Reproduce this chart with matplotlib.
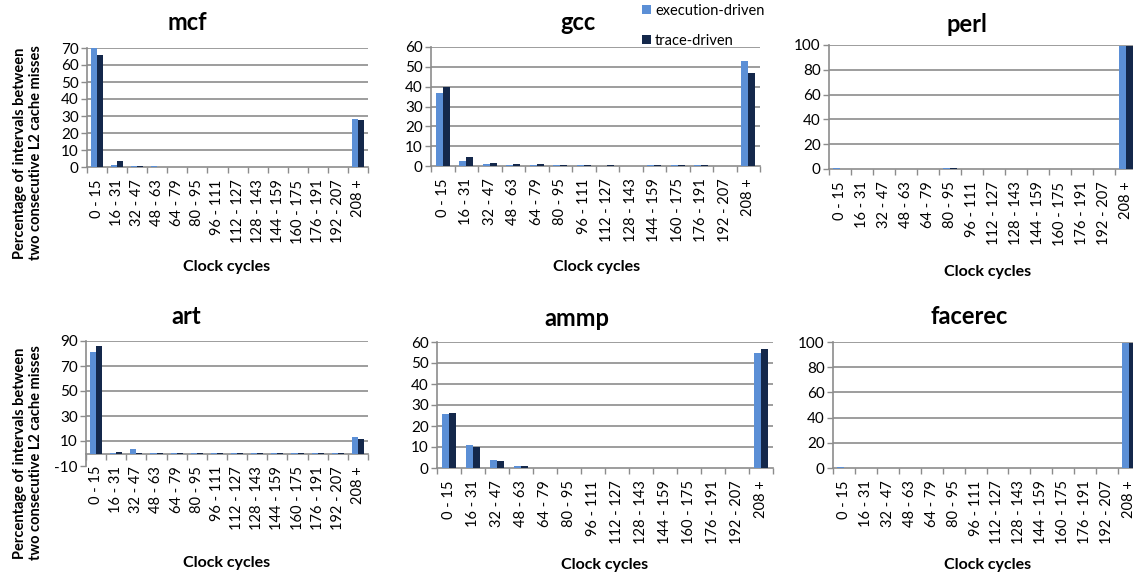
import numpy as np
import matplotlib
matplotlib.use("Agg")
import matplotlib.pyplot as plt

plt.rcParams['font.family'] = ['Lato', 'DejaVu Sans']
plt.rcParams['axes.unicode_minus'] = False

cycles = ["0 - 15", "16 - 31", "32 - 47", "48 - 63", "64 - 79", "80 - 95", "96 - 111",
          "112 - 127", "128 - 143", "144 - 159", "160 - 175", "176 - 191", "192 - 207", "208 +"]

mcf_exec = [70, 1.0, 0.7, 0.3, 0.1, 0.1, 0.1, 0.1, 0.1, 0.1, 0.1, 0.1, 0.1, 28]
mcf_trace = [66, 3.8, 0.8, 0.2, 0.1, 0.1, 0.1, 0.1, 0.1, 0.1, 0.1, 0.1, 0.1, 27.5]
gcc_exec = [37, 2.5, 1.0, 0.7, 0.6, 0.5, 0.4, 0.2, 0.2, 0.4, 0.5, 0.4, 0.1, 53]
gcc_trace = [40, 4.5, 1.7, 0.9, 0.9, 0.6, 0.5, 0.4, 0.2, 0.5, 0.5, 0.4, 0.1, 47]
perl_exec = [0.5, 0.1, 0.1, 0.1, 0.1, 1.0, 0.1, 0.1, 0.1, 0.1, 0.1, 0.1, 0.1, 99]
perl_trace = [0.1, 0.1, 0.1, 0.1, 0.1, 0.5, 0.1, 0.1, 0.1, 0.1, 0.1, 0.1, 0.1, 99]
art_exec = [81, 0.3, 3.5, 0.1, 0.1, 0.1, 0.1, 0.1, 0.1, 0.1, 0.1, 0.1, 0.1, 13]
art_trace = [86, 1.0, 0.1, 0.1, 0.1, 0.1, 0.1, 0.1, 0.1, 0.1, 0.1, 0.1, 0.1, 11.5]
ammp_exec = [25.5, 11, 3.8, 1.0, 0.2, 0.1, 0.1, 0.1, 0.1, 0.1, 0.1, 0.1, 0.1, 55]
ammp_trace = [26, 10, 3.2, 0.8, 0.1, 0.1, 0.1, 0.1, 0.1, 0.1, 0.1, 0.1, 0.1, 56.5]
facerec_exec = [0.8, 0.1, 0.1, 0.1, 0.1, 0.1, 0.1, 0.1, 0.1, 0.1, 0.1, 0.1, 0.1, 99.5]
facerec_trace = [0.3, 0.1, 0.1, 0.1, 0.1, 0.1, 0.1, 0.1, 0.1, 0.1, 0.1, 0.1, 0.1, 99.5]

light = "#5B8FD6"
dark = "#14284B"
grid_col = "#8C8C8C"

W, H = 1133, 575
fig = plt.figure(figsize=(W / 100, H / 100), dpi=100)


def px(l, b, r, t):
    return [l / W, 1 - b / H, (r - l) / W, (b - t) / H]


# name, data, axes box in pixels, ylim, yticks, xlim right, title pos, xlabel pos
panels = [
    ("mcf", mcf_exec, mcf_trace, px(87, 167, 368, 48), (0, 70), range(0, 71, 10), 13.5, (187, 23), (227, 267)),
    ("gcc", gcc_exec, gcc_trace, px(431, 166, 760, 47), (0, 60), range(0, 61, 10), 13.2, (578, 23), (597, 267)),
    ("perl", perl_exec, perl_trace, px(829, 169, 1137, 45), (0, 100), range(0, 101, 20), 13.5, (967, 25), (988, 272)),
    ("art", art_exec, art_trace, px(86, 466, 368, 341), (-10, 90), range(-10, 91, 20), 13.5, (186, 317), (227, 563)),
    ("ammp", ammp_exec, ammp_trace, px(437, 468, 773, 342), (0, 60), range(0, 61, 10), 13.5, (577, 318), (605, 565)),
    ("facerec", facerec_exec, facerec_trace, px(833, 468, 1140, 342), (0, 100), range(0, 101, 20), 13.5, (969, 317), (988, 565)),
]

x = np.arange(len(cycles))
bw = 0.3
for name, ex, tr, box, ylim, yt, xr, tpos, lpos in panels:
    ax = fig.add_axes(box)
    ax.set_axisbelow(True)
    for s in ["top", "right"]:
        ax.spines[s].set_visible(False)
    for s in ["left", "bottom"]:
        ax.spines[s].set_color(grid_col)
        ax.spines[s].set_linewidth(1.2)
    ax.spines["bottom"].set_position(("data", 0))
    ax.bar(x - bw / 2, ex, bw, color=light, label="execution-driven", zorder=3)
    ax.bar(x + bw / 2, tr, bw, color=dark, label="trace-driven", zorder=3)
    ax.set_xlim(-0.5, xr)
    ax.set_ylim(*ylim)
    ax.set_yticks(list(yt))
    ax.set_xticks(x)
    ax.set_xticklabels(cycles, rotation=90, fontsize=10.5)
    ax.set_xticks(np.arange(-0.5, 14, 1), minor=True)
    ax.tick_params(axis='x', which='major', length=0, pad=9)
    ax.tick_params(axis='x', which='minor', length=4, color=grid_col, width=1)
    ax.tick_params(axis='y', length=4, color=grid_col, width=1, labelsize=11, pad=2)
    for yv in yt:
        if yv > 0:
            ax.axhline(yv, color=grid_col, lw=1.2, zorder=1)
    fig.text(tpos[0] / W, 1 - tpos[1] / H, name, fontsize=17, fontweight="bold", ha="center", va="center")
    fig.text(lpos[0] / W, 1 - lpos[1] / H, "Clock cycles", fontsize=11.5, fontweight="bold", ha="center", va="center")
    if name == "gcc":
        handles, labels = ax.get_legend_handles_labels()

ylab = "Percentage of intervals between\ntwo consecutive L2 cache misses"
fig.text(28 / W, 1 - 153 / H, ylab, rotation=90, fontsize=10.5, fontweight="bold", ha="center", va="center",
         linespacing=1.1)
fig.text(28 / W, 1 - 453 / H, ylab, rotation=90, fontsize=10.5, fontweight="bold", ha="center", va="center",
         linespacing=1.1)

fig.legend(handles, labels, loc="upper left", bbox_to_anchor=(636 / W, 1 + 2 / H), frameon=False,
           fontsize=10.5, handlelength=0.6, handleheight=0.6, handletextpad=0.3, labelspacing=1.1,
           borderaxespad=0)

fig.savefig("out.png", dpi=100)
